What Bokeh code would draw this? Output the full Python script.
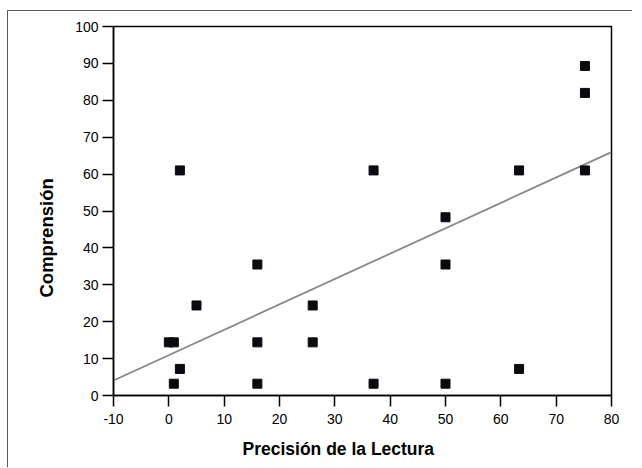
from bokeh.plotting import figure
from bokeh.models import Range1d, FixedTicker, Title
from bokeh.embed import file_html
from bokeh.resources import INLINE

# ---- data ----
precision = [2, 75.2, 75.2, 37, 63.3, 75.2, 50, 16, 5, 26, 0, 0.9, 16, 26, 2, 0.9, 16, 37, 50, 50, 63.3]
comprension = [61, 89.3, 82, 61, 61, 61, 48.3, 35.5, 24.4, 24.4, 14.4, 14.4, 14.4, 14.4, 7.2, 3.2, 3.2, 3.2, 35.5, 3.2, 7.2]
fit_intercept = 10.93
fit_slope = 0.688
x_ticks = [-10, 0, 10, 20, 30, 40, 50, 60, 70, 80]
y_ticks = [0, 10, 20, 30, 40, 50, 60, 70, 80, 90, 100]
x_label = "Precisión de la Lectura"
y_label = "Comprensión"

X0, X1 = -10, 80
Y0, Y1 = 0, 100

FONT = "Liberation Sans"

p = figure(width=625, height=457, output_backend="svg", toolbar_location=None,
           x_range=Range1d(X0, X1), y_range=Range1d(Y0, Y1),
           min_border_left=105, min_border_right=22, min_border_top=15, min_border_bottom=72)
p.styles = {"border-top": "1px solid #5a5a5a", "border-left": "1px solid #5a5a5a",
            "margin-top": "10px", "margin-left": "7px"}
p.background_fill_color = "white"
p.border_fill_color = "white"
p.outline_line_color = "black"
p.outline_line_width = 1.5
p.xgrid.visible = False
p.ygrid.visible = False

for ax, ticks, standoff in ((p.xaxis, x_ticks, 7), (p.yaxis, y_ticks, 4)):
    ax.ticker = FixedTicker(ticks=ticks)
    ax.major_label_overrides = {t: str(t) for t in ticks}
    ax.minor_tick_line_color = None
    ax.major_tick_in = 0
    ax.major_tick_out = 11
    ax.major_tick_line_color = "black"
    ax.major_tick_line_width = 1.5
    ax.axis_line_color = "black"
    ax.axis_line_width = 1.5
    ax.major_label_text_font = FONT
    ax.major_label_text_font_size = "14px"
    ax.major_label_text_color = "black"
    ax.major_label_standoff = standoff
p.yaxis.major_label_orientation = "horizontal"

# regression line
fx = [X0, X1]
fy = [fit_intercept + fit_slope * v for v in fx]
p.line(fx, fy, line_color="#888888", line_width=1.8)

# points
p.scatter(precision, comprension, marker="square", size=9,
          fill_color="#0a0a10", line_color="#0a0a10")

# axis titles (placed off-centre like the original)
p.add_layout(Title(text=x_label, align="left", offset=129, standoff=20,
                   text_font=FONT, text_font_style="bold", text_font_size="17.5px",
                   text_color="black"), "below")
p.add_layout(Title(text=y_label, align="left", offset=98, standoff=32,
                   text_font=FONT, text_font_style="bold", text_font_size="18.5px",
                   text_color="black"), "left")

open("out.html", "w").write(file_html(p, INLINE))
